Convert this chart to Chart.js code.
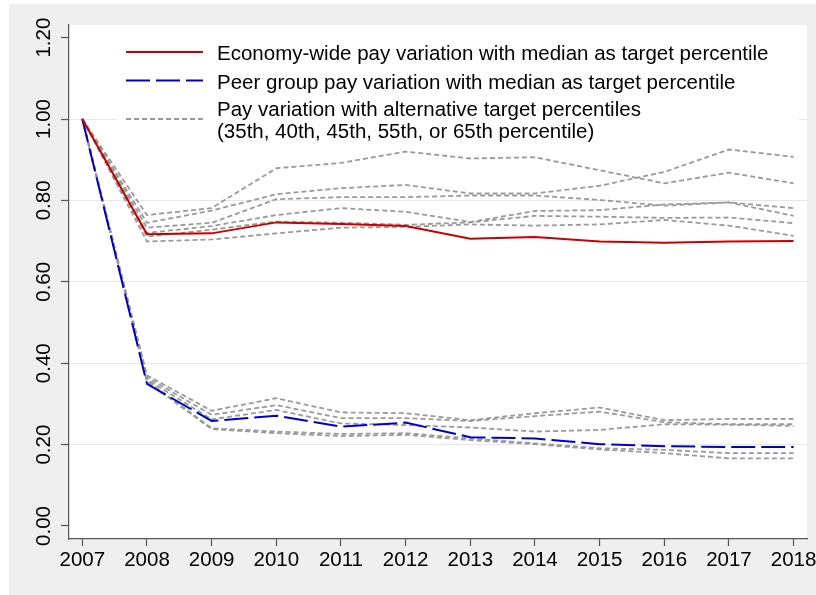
<!DOCTYPE html>
<html>
<head>
<meta charset="utf-8">
<script src="https://cdn.jsdelivr.net/npm/chart.js@4"></script>
<style>
  html, body { margin: 0; padding: 0; background: #ffffff; }
  canvas { display: block; }
</style>
</head>
<body>
<canvas id="chart" width="816" height="595"></canvas>
<script>
// Years on the horizontal axis and the value ticks on the vertical axis
const years = [2007, 2008, 2009, 2010, 2011, 2012, 2013, 2014, 2015, 2016, 2017, 2018];
const yTicks = [0, 0.2, 0.4, 0.6, 0.8, 1.0, 1.2];

// Median as target percentile
const economyMedian = [1.000, 0.717, 0.719, 0.746, 0.742, 0.737, 0.706, 0.710, 0.699, 0.696, 0.699, 0.700];
const peerMedian    = [1.000, 0.349, 0.258, 0.271, 0.244, 0.254, 0.218, 0.215, 0.201, 0.196, 0.194, 0.194];

// Economy-wide variation with alternative target percentiles
const economyAlt1 = [1.000, 0.764, 0.781, 0.879, 0.892, 0.920, 0.903, 0.906, 0.874, 0.842, 0.868, 0.842];
const economyAlt2 = [1.000, 0.745, 0.775, 0.815, 0.830, 0.838, 0.817, 0.817, 0.836, 0.870, 0.925, 0.907];
const economyAlt3 = [1.000, 0.733, 0.745, 0.803, 0.808, 0.808, 0.812, 0.812, 0.801, 0.787, 0.795, 0.762];
const economyAlt4 = [1.000, 0.720, 0.737, 0.764, 0.781, 0.772, 0.747, 0.774, 0.776, 0.790, 0.795, 0.781];
const economyAlt5 = [1.000, 0.711, 0.728, 0.748, 0.745, 0.740, 0.746, 0.762, 0.760, 0.757, 0.758, 0.744];
const economyAlt6 = [1.000, 0.699, 0.704, 0.719, 0.733, 0.735, 0.741, 0.738, 0.741, 0.752, 0.738, 0.713];

// Peer group variation with alternative target percentiles
const peerAlt1 = [1.000, 0.370, 0.283, 0.314, 0.279, 0.277, 0.260, 0.277, 0.291, 0.260, 0.263, 0.263];
const peerAlt2 = [1.000, 0.365, 0.273, 0.297, 0.265, 0.265, 0.258, 0.270, 0.281, 0.255, 0.250, 0.250];
const peerAlt3 = [1.000, 0.360, 0.262, 0.285, 0.252, 0.248, 0.242, 0.232, 0.236, 0.250, 0.249, 0.246];
const peerAlt4 = [1.000, 0.357, 0.240, 0.232, 0.226, 0.228, 0.215, 0.203, 0.191, 0.187, 0.179, 0.179];
const peerAlt5 = [1.000, 0.355, 0.238, 0.228, 0.221, 0.224, 0.211, 0.201, 0.188, 0.179, 0.166, 0.166];

const legendLabels = [
  ['Economy-wide pay variation with median as target percentile'],
  ['Peer group pay variation with median as target percentile'],
  ['Pay variation with alternative target percentiles', '(35th, 40th, 45th, 55th, or 65th percentile)']
];

const RED = '#c80000';
const BLUE = '#0000cc';
const GREY = '#9a9a9a';
const FONT = { family: "'Liberation Sans', Arial, sans-serif", size: 20.5 };

const toPoints = arr => years.map((yr, i) => ({ x: yr, y: arr[i] }));

const altStyle = {
  borderColor: GREY, borderWidth: 1.8, borderDash: [5, 3], borderCapStyle: 'butt',
  pointRadius: 0, tension: 0, fill: false
};

const datasets = [
  { data: toPoints(economyMedian), borderColor: RED, borderWidth: 2, pointRadius: 0, tension: 0, fill: false },
  { data: toPoints(peerMedian), borderColor: BLUE, borderWidth: 2, borderDash: [24, 6], borderCapStyle: 'butt', pointRadius: 0, tension: 0, fill: false }
];
[economyAlt1, economyAlt2, economyAlt3, economyAlt4, economyAlt5, economyAlt6,
 peerAlt1, peerAlt2, peerAlt3, peerAlt4, peerAlt5].forEach(arr => {
  datasets.push(Object.assign({ data: toPoints(arr) }, altStyle));
});

// Outer grey region with a white plot region
const framePlugin = {
  id: 'frame',
  beforeDraw(chart) {
    const { ctx, chartArea: a, width, height } = chart;
    ctx.save();
    ctx.fillStyle = '#ffffff';
    ctx.fillRect(0, 0, width, height);
    ctx.fillStyle = '#efefef';
    ctx.fillRect(9, 4, width - 9, height - 4);
    ctx.fillStyle = '#ffffff';
    ctx.fillRect(a.left, a.top, a.right - a.left, a.bottom - a.top);
    ctx.restore();
  }
};

// Key placed inside the plot region, on a white box
const keyPlugin = {
  id: 'key',
  beforeDatasetsDraw(chart) {
    const { ctx, chartArea: a } = chart;
    ctx.save();
    ctx.fillStyle = '#ffffff';
    ctx.fillRect(a.left + 48, a.top + 6, a.right - a.left - 56, 114);

    const x0 = a.left + 57, x1 = a.left + 134, tx = a.left + 148;
    const samples = [
      { y: a.top + 27, color: RED, width: 2, dash: [] },
      { y: a.top + 55.5, color: BLUE, width: 2, dash: [24, 6] },
      { y: a.top + 94, color: GREY, width: 1.8, dash: [5, 3] }
    ];
    const baselines = [[a.top + 34.7], [a.top + 63.7], [a.top + 91.4, a.top + 113.4]];
    samples.forEach((s, i) => {
      ctx.beginPath();
      ctx.setLineDash(s.dash);
      ctx.lineCap = 'butt';
      ctx.strokeStyle = s.color;
      ctx.lineWidth = s.width;
      ctx.moveTo(x0, s.y);
      ctx.lineTo(x1, s.y);
      ctx.stroke();
    });
    ctx.setLineDash([]);
    ctx.fillStyle = '#000000';
    ctx.font = `${FONT.size}px ${FONT.family}`;
    ctx.textAlign = 'left';
    ctx.textBaseline = 'alphabetic';
    legendLabels.forEach((lines, i) => {
      lines.forEach((line, j) => ctx.fillText(line, tx, baselines[i][j]));
    });
    ctx.restore();
  }
};

new Chart(document.getElementById('chart'), {
  type: 'line',
  data: { datasets },
  plugins: [framePlugin, keyPlugin],
  options: {
    responsive: false,
    animation: false,
    events: [],
    layout: { padding: { left: 0, top: 25, right: 9, bottom: 0 } },
    plugins: { legend: { display: false }, tooltip: { enabled: false } },
    scales: {
      x: {
        type: 'linear',
        min: 2006.794,
        max: 2018.207,
        afterBuildTicks: s => { s.ticks = years.map(v => ({ value: v })); },
        afterFit: s => { s.height = 56; s.paddingLeft = 0; s.paddingRight = 0; },
        grid: { display: true, drawOnChartArea: false, drawTicks: true, tickLength: 7, tickColor: '#555555', tickWidth: 1.2 },
        border: { display: true, color: '#555555', width: 1.2 },
        ticks: {
          color: '#000000', font: FONT, padding: 2, minRotation: 0, maxRotation: 0, autoSkip: false,
          callback: v => String(v)
        }
      },
      y: {
        type: 'linear',
        min: -0.032,
        max: 1.231,
        afterBuildTicks: s => { s.ticks = yTicks.map(v => ({ value: v })); },
        afterFit: s => { s.width = 69; s.paddingTop = 0; s.paddingBottom = 0; },
        grid: {
          display: true, drawTicks: true, tickLength: 8, tickColor: '#555555', tickWidth: 1.2, lineWidth: 1,
          color: c => (c.tick && c.tick.value > 0.01 && c.tick.value < 1.1) ? '#e6e6e6' : 'rgba(0,0,0,0)'
        },
        border: { display: true, color: '#555555', width: 1.2 },
        ticks: {
          color: '#000000', font: FONT, padding: -3.5, minRotation: 90, maxRotation: 90, crossAlign: 'center',
          callback: v => Number(v).toFixed(2)
        }
      }
    }
  }
});
</script>
</body>
</html>
